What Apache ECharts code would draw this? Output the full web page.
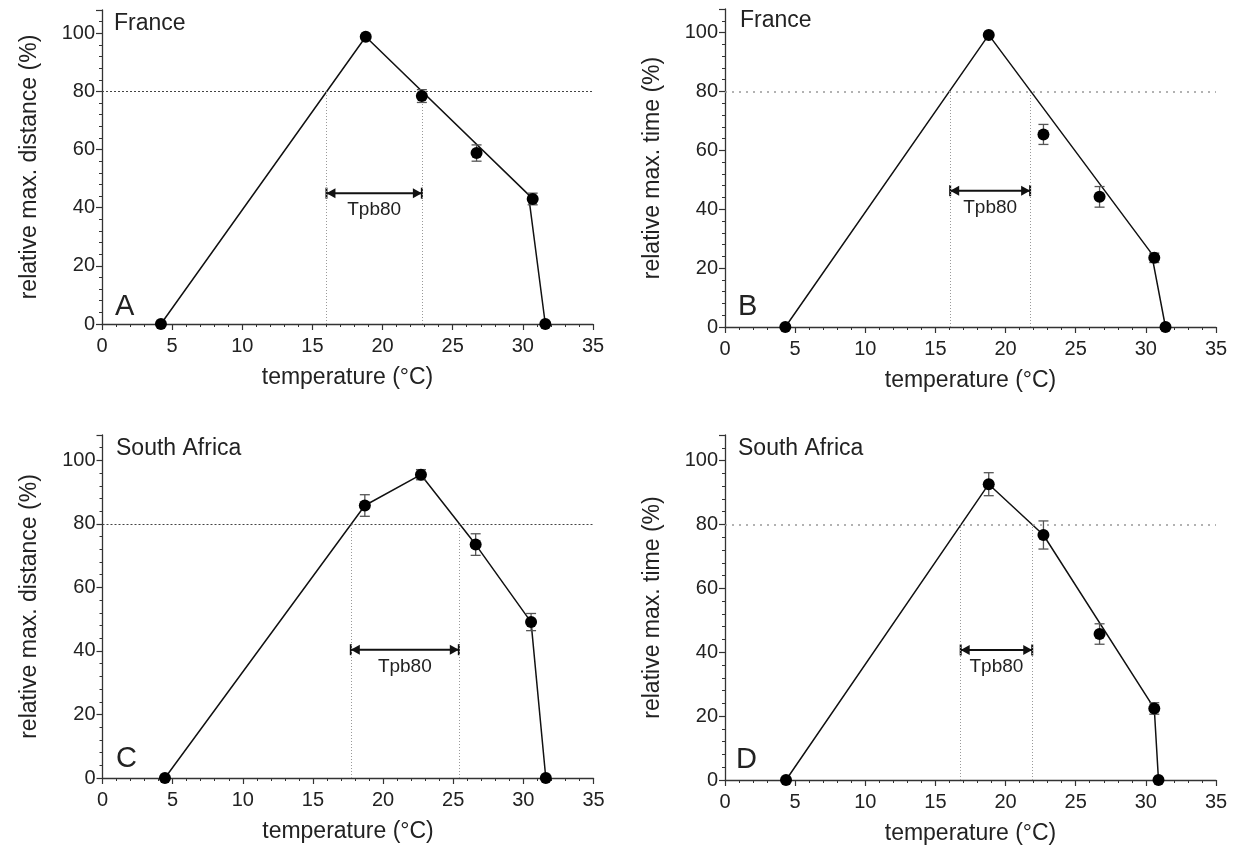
<!DOCTYPE html>
<html>
<head>
<meta charset="utf-8">
<title>Tpb80</title>
<script src="https://cdn.jsdelivr.net/npm/echarts@6/dist/echarts.min.js"></script>
<style>
  html, body { margin: 0; padding: 0; background: #fff; }
  #chart { width: 1236px; height: 845px; }
</style>
</head>
<body>
<div id="chart"></div>
<script>
// measured points: temperature (°C), mean (%), error (%)
const tempA = [4.2, 18.8, 22.8, 26.7, 30.7, 31.6]
const meanA = [0, 98.8, 78.4, 58.8, 43.0, 0]
const errA = [0, 0, 2.2, 2.8, 2.0, 0]

const tempB = [4.3, 18.8, 22.7, 26.7, 30.6, 31.4]
const meanB = [0, 99.2, 65.4, 44.2, 23.5, 0]
const errB = [0, 0, 3.4, 3.5, 1.6, 0]

const tempC = [4.45, 18.7, 22.7, 26.6, 30.55, 31.6]
const meanC = [0, 85.8, 95.5, 73.5, 49.1, 0]
const errC = [0, 3.4, 1.6, 3.4, 2.7, 0]

const tempD = [4.35, 18.8, 22.7, 26.7, 30.6, 30.9]
const meanD = [0, 92.6, 76.7, 45.7, 22.4, 0]
const errD = [0, 3.6, 4.4, 3.2, 1.8, 0]

// fitted performance curves
const fitAx = [4.2, 18.8, 30.4, 31.6]
const fitAy = [0, 98.8, 44.5, 0]
const fitBx = [4.3, 18.8, 30.4, 31.4]
const fitBy = [0, 99.2, 25, 0]
const fitCx = [4.45, 18.7, 22.7, 26.6, 30.55, 31.6]
const fitCy = [0, 85.8, 95.5, 73.5, 49.1, 0]
const fitDx = [4.35, 18.8, 22.7, 30.6, 30.9]
const fitDy = [0, 92.6, 76.7, 22.4, 0]

// Tpb80 range [low, high] and the level the arrow is drawn at
const tpbA = [16.0, 22.8]
const tpbB = [16.05, 21.75]
const tpbC = [17.7, 25.4]
const tpbD = [16.8, 21.9]
const tpbLevel = [45, 46.3, 40.4, 40.7]

const threshold = 80
const xTicks = [0, 35, 5]   // min, max, interval
const yTicks = [0, 108, 20]

const yNames = ['relative max. distance (%)', 'relative max. time (%)', 'relative max. distance (%)', 'relative max. time (%)']
const countries = ['France', 'France', 'South Africa', 'South Africa']
const letters = ['A', 'B', 'C', 'D']

const FONT = '"Liberation Sans", Arial, sans-serif'

const panels = [
  { temp: tempA, mean: meanA, err: errA, fx: fitAx, fy: fitAy, tpb: tpbA, light: false },
  { temp: tempB, mean: meanB, err: errB, fx: fitBx, fy: fitBy, tpb: tpbB, light: true },
  { temp: tempC, mean: meanC, err: errC, fx: fitCx, fy: fitCy, tpb: tpbC, light: false },
  { temp: tempD, mean: meanD, err: errD, fx: fitDx, fy: fitDy, tpb: tpbD, light: true }
]

const grids = [
  { left: 102, top: 10, width: 491, height: 314 },
  { left: 725, top: 9, width: 491, height: 318 },
  { left: 102.5, top: 435, width: 491, height: 343 },
  { left: 725, top: 435, width: 491, height: 345 }
]

const renderErr = (params, api) => {
  const x = api.value(0), m = api.value(1), e = api.value(2)
  if (!e) return null
  const t = api.coord([x, m + e])
  const b = api.coord([x, m - e])
  const w = 5
  const st = { stroke: '#555', lineWidth: 1.3 }
  return {
    type: 'group',
    children: [
      { type: 'line', shape: { x1: t[0], y1: t[1], x2: b[0], y2: b[1] }, style: st },
      { type: 'line', shape: { x1: t[0] - w, y1: t[1], x2: t[0] + w, y2: t[1] }, style: st },
      { type: 'line', shape: { x1: b[0] - w, y1: b[1], x2: b[0] + w, y2: b[1] }, style: st }
    ]
  }
}

const renderTpb = (params, api) => {
  const p1 = api.coord([api.value(0), api.value(2)])
  const p2 = api.coord([api.value(1), api.value(2)])
  const y = p1[1]
  const h = 5.5, aw = 9, ah = 5
  const st = { stroke: '#111', lineWidth: 2 }
  return {
    type: 'group',
    children: [
      { type: 'line', shape: { x1: p1[0], y1: y, x2: p2[0], y2: y }, style: st },
      { type: 'line', shape: { x1: p1[0], y1: y - h, x2: p1[0], y2: y + h }, style: st },
      { type: 'line', shape: { x1: p2[0], y1: y - h, x2: p2[0], y2: y + h }, style: st },
      { type: 'polygon', shape: { points: [[p1[0], y], [p1[0] + aw, y - ah], [p1[0] + aw, y + ah]] }, style: { fill: '#111' } },
      { type: 'polygon', shape: { points: [[p2[0], y], [p2[0] - aw, y - ah], [p2[0] - aw, y + ah]] }, style: { fill: '#111' } },
      {
        type: 'text',
        style: {
          text: 'Tpb80', x: (p1[0] + p2[0]) / 2, y: y + 17,
          align: 'center', verticalAlign: 'middle',
          font: '19px ' + FONT, fill: '#222'
        }
      }
    ]
  }
}

const xAxis = [], yAxis = [], series = [], graphic = []

panels.forEach((p, i) => {
  xAxis.push({
    type: 'value', gridIndex: i,
    min: xTicks[0], max: xTicks[1], interval: xTicks[2],
    name: 'temperature (°C)', nameLocation: 'middle', nameGap: 42,
    nameTextStyle: { fontSize: 23, fontFamily: FONT, color: '#222' },
    axisLine: { onZero: false, lineStyle: { color: '#333', width: 1.3 } },
    axisTick: { length: 6, lineStyle: { color: '#333', width: 1.2 } },
    minorTick: { show: true, splitNumber: 5, length: 3, lineStyle: { color: '#333', width: 1 } },
    axisLabel: { fontSize: 20, fontFamily: FONT, color: '#222', margin: 12 },
    splitLine: { show: false }
  })
  yAxis.push({
    type: 'value', gridIndex: i,
    min: yTicks[0], max: yTicks[1], interval: yTicks[2],
    name: yNames[i], nameLocation: 'middle', nameGap: 61, nameRotate: 90,
    nameTextStyle: { fontSize: 23, fontFamily: FONT, color: '#222' },
    axisLine: { show: true, lineStyle: { color: '#333', width: 1.3 } },
    axisTick: { show: true, length: 6, lineStyle: { color: '#333', width: 1.2 } },
    minorTick: { show: true, splitNumber: 5, length: 3, lineStyle: { color: '#333', width: 1 } },
    axisLabel: { fontSize: 20, fontFamily: FONT, color: '#222', margin: 7, showMaxLabel: false },
    splitLine: { show: false }
  })

  const hStyle = p.light
    ? { type: [2, 5], color: '#999', width: 1.6 }
    : { type: [2, 2], color: '#444', width: 1 }
  const vStyle = { type: [1, 2], color: '#999', width: 1 }

  series.push({
    type: 'line', xAxisIndex: i, yAxisIndex: i,
    data: p.fx.map((x, k) => [x, p.fy[k]]),
    symbol: 'none', z: 3,
    lineStyle: { color: '#111', width: 1.5 },
    markLine: {
      silent: true, symbol: 'none', label: { show: false },
      data: [
        { yAxis: threshold, lineStyle: hStyle },
        [{ coord: [p.tpb[0], 0], lineStyle: vStyle }, { coord: [p.tpb[0], threshold] }],
        [{ coord: [p.tpb[1], 0], lineStyle: vStyle }, { coord: [p.tpb[1], threshold] }]
      ]
    }
  })
  series.push({
    type: 'custom', xAxisIndex: i, yAxisIndex: i, z: 4,
    renderItem: renderErr,
    data: p.temp.map((x, k) => [x, p.mean[k], p.err[k]])
  })
  series.push({
    type: 'scatter', xAxisIndex: i, yAxisIndex: i, z: 5,
    symbolSize: 12,
    itemStyle: { color: '#000', opacity: 1 },
    data: p.temp.map((x, k) => [x, p.mean[k]])
  })
  series.push({
    type: 'custom', xAxisIndex: i, yAxisIndex: i, z: 4,
    renderItem: renderTpb,
    data: [[p.tpb[0], p.tpb[1], tpbLevel[i]]]
  })
})

// country names and panel letters
const countryPos = [[114, 24], [740, 21], [116, 449], [738, 449]]
const letterPos = [[115, 307], [738, 307], [116, 759], [736, 760]]
countries.forEach((c, i) => {
  graphic.push({
    type: 'text', x: countryPos[i][0], y: countryPos[i][1],
    style: { text: c, font: '23px ' + FONT, fill: '#222', verticalAlign: 'middle' }
  })
  graphic.push({
    type: 'text', x: letterPos[i][0], y: letterPos[i][1],
    style: { text: letters[i], font: '29px ' + FONT, fill: '#222', verticalAlign: 'middle' }
  })
})

const chart = echarts.init(document.getElementById('chart'))
chart.setOption({
  animation: false,
  backgroundColor: '#fff',
  grid: grids.map(g => Object.assign({ outerBoundsMode: 'none', containLabel: false }, g)),
  xAxis,
  yAxis,
  series,
  graphic
})
window.addEventListener('resize', () => chart.resize())
</script>
</body>
</html>
